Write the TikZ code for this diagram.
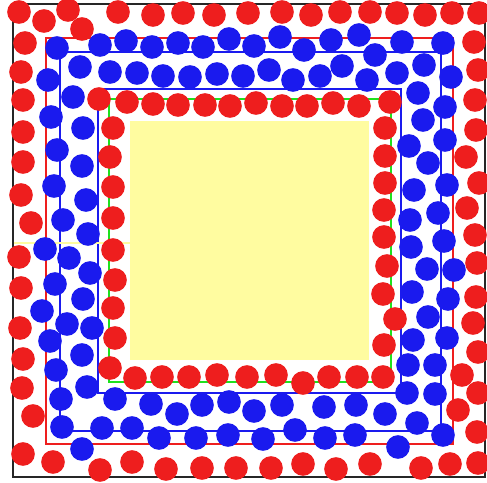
\documentclass[tikz,border=0pt]{standalone}
\usepackage{tikz}
\definecolor{dotred}{RGB}{238,30,30}
\definecolor{dotblue}{RGB}{26,26,238}
\definecolor{padyellow}{RGB}{255,252,160}
\definecolor{wallgreen}{RGB}{30,225,30}

\begin{document}
\begin{tikzpicture}[
    x=0.03cm, y=-0.03cm,
    reddot/.style={fill=dotred},
    bluedot/.style={fill=dotblue},
    wall/.style={line width=1.5pt}
]
\useasboundingbox (0,0) rectangle (487,482);
\fill[padyellow] (130,121) rectangle (369,360);
\draw[line width=2.5pt, black!85] (13,4) rectangle (485,477);
\draw[wall, dotred, line width=1.2pt] (46,38) rectangle (453,444);
\draw[wall, dotblue] (60,52) rectangle (441,431);
\draw[wall, dotblue] (98,89) rectangle (401,393);
\draw[wall, wallgreen] (109,99) rectangle (391,382);
\draw[padyellow, line width=2.5pt] (14,243) -- (130,243);

% outer red ring
\foreach \px/\py in {19/12,44/21,68/10,82/29,118/12,153/15,183/13,214/15,248/13,282/12,
    311/15,340/12,370/12,397/13,425/15,452/13,479/13,
    25/43,21/72,23/100,23/132,23/162,21/195,31/223,19/257,21/288,20/328,23/359,22/388,33/416,23/454,
    53/462,100/470,132/462,166/469,202/468,236/468,271/468,303/464,336/469,370/464,421/468,450/464,478/463,
    474/42,478/70,475/100,476/130,466/157,479/183,467/208,475/235,477/263,476/297,473/323,478/352,
    462/375,478/393,458/410,477/432}
  \fill[reddot] (\px,\py) circle[radius=0.355cm];

% inner red ring
\foreach \px/\py in {99/99,127/102,153/104,178/105,205/105,230/106,256/103,282/106,307/106,333/103,359/106,390/102,
    113/128,110/157,113/187,113/218,113/250,115/280,113/308,115/338,110/368,135/378,
    162/377,189/377,217/375,247/377,276/375,303/383,329/377,357/377,383/377,
    385/128,385/156,385/183,384/210,384/237,387/266,383/294,395/319,384/345}
  \fill[reddot] (\px,\py) circle[radius=0.355cm];

% blue band
\foreach \px/\py in {57/48,100/45,126/41,152/47,178/43,203/47,229/39,254/46,280/37,304/50,331/40,359/35,375/55,402/42,443/43,
    48/80,80/67,110/72,137/73,163/76,190/77,217/74,243/76,269/70,293/80,320/76,342/66,367/80,397/73,424/65,451/77,
    418/93,445/107,423/120,409/146,445/140,428/163,414/190,447/185,410/220,438/213,411/247,444/241,427/269,454/270,
    412/292,448/299,428/317,413/340,447/338,408/365,435/365,407/393,435/394,417/423,443/435,398/447,
    385/414,356/405,355/435,324/407,325/438,282/405,295/430,254/411,263/439,229/402,228/435,202/405,196/438,
    177/414,151/404,159/438,132/428,115/399,102/428,82/449,62/427,61/399,87/387,56/370,82/355,50/341,
    67/324,92/328,42/311,83/299,55/284,90/273,69/258,45/249,88/234,63/220,86/200,54/186,82/166,57/150,
    83/128,51/117,73/97}
  \fill[bluedot] (\px,\py) circle[radius=0.355cm];
\end{tikzpicture}
\end{document}
